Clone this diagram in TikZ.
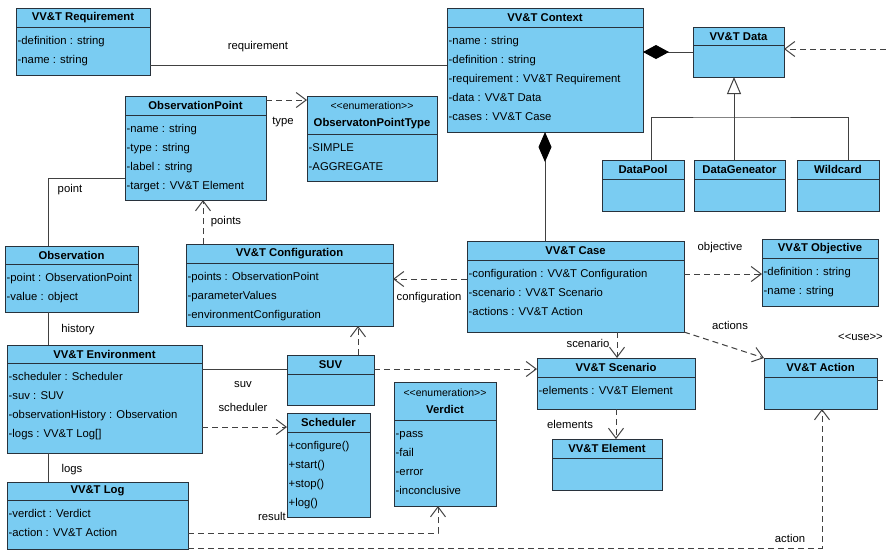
\documentclass[tikz,border=0pt]{standalone}
\usepackage{fontspec}
\setmainfont{Liberation Sans}[Ligatures=TeXOff]
\usetikzlibrary{arrows.meta, calc}

\definecolor{boxblue}{RGB}{122,204,242}
\definecolor{edgegray}{RGB}{40,50,60}
\definecolor{wiregray}{RGB}{65,65,65}

\tikzset{
  umlclass/.style={draw=edgegray, fill=boxblue, line width=1pt, anchor=north west, inner sep=0pt, outer sep=0pt},
  umlhead/.style={font=\fontsize{11.3}{17}\selectfont\bfseries, anchor=north, inner sep=0pt, minimum height=19pt, align=center},
  umlattr/.style={anchor=north west, align=left, inner xsep=1.5pt, inner ysep=4pt},
  sep/.style={draw=edgegray, line width=1pt},
  assoc/.style={draw=wiregray, line width=1pt},
  depend/.style={draw=wiregray, line width=1pt, dash pattern=on 6pt off 4pt, -{Straight Barb[length=10pt,width=15pt]}},
  rolename/.style={inner sep=1pt}
}

\begin{document}
\begin{tikzpicture}[x=1pt, y=-1pt, font=\fontsize{11.3}{19}\selectfont]
    \useasboundingbox (0,0) rectangle (886,550);
    \clip (0,0) rectangle (886,550);

    % top row
    \node[umlclass, minimum width=134pt, minimum height=67pt] (req) at (16,8) {};
    \node[umlhead] (reqH) at (req.north) {VV\&T Requirement};
    \draw[sep] (reqH.south -| req.west) -- (reqH.south -| req.east);
    \node[umlattr] (reqA) at (reqH.south -| req.west) {\strut-definition : string\\-name : string};

    \node[umlclass, minimum width=196pt, minimum height=124pt] (ctx) at (447,8) {};
    \node[umlhead] (ctxH) at (ctx.north) {VV\&T Context};
    \draw[sep] (ctxH.south -| ctx.west) -- (ctxH.south -| ctx.east);
    \node[umlattr] (ctxA) at (ctxH.south -| ctx.west) {\strut-name : string\\-definition : string\\-requirement : VV\&T Requirement\\-data : VV\&T Data\\-cases : VV\&T Case};

    \node[umlclass, minimum width=91pt, minimum height=50pt] (data) at (693,27) {};
    \node[umlhead, minimum height=18pt] (dataH) at (data.north) {VV\&T Data};
    \draw[sep] (dataH.south -| data.west) -- (dataH.south -| data.east);

    \node[umlclass, minimum width=82pt, minimum height=51pt] (pool) at (602,160) {};
    \node[umlhead] (poolH) at (pool.north) {DataPool};
    \draw[sep] (poolH.south -| pool.west) -- (poolH.south -| pool.east);

    \node[umlclass, minimum width=91pt, minimum height=51pt] (gener) at (694,160) {};
    \node[umlhead] (generH) at (gener.north) {DataGeneator};
    \draw[sep] (generH.south -| gener.west) -- (generH.south -| gener.east);

    \node[umlclass, minimum width=82pt, minimum height=51pt] (wild) at (797,160) {};
    \node[umlhead] (wildH) at (wild.north) {Wildcard};
    \draw[sep] (wildH.south -| wild.west) -- (wildH.south -| wild.east);

    \node[umlclass, minimum width=141pt, minimum height=104pt] (obsp) at (125,96) {};
    \node[umlhead] (obspH) at (obsp.north) {ObservationPoint};
    \draw[sep] (obspH.south -| obsp.west) -- (obspH.south -| obsp.east);
    \node[umlattr] (obspA) at (obspH.south -| obsp.west) {\strut-name : string\\-type : string\\-label : string\\-target : VV\&T Element};

    \node[umlclass, minimum width=130pt, minimum height=85pt] (optype) at (307,96) {};
    \node[umlhead, minimum height=38pt] (optypeH) at (optype.north) {{\mdseries\fontsize{10.5}{17}\selectfont <<enumeration>>}\\ObservatonPointType};
    \draw[sep] (optypeH.south -| optype.west) -- (optypeH.south -| optype.east);
    \node[umlattr] (optypeA) at (optypeH.south -| optype.west) {\strut-SIMPLE\\-AGGREGATE};

    % middle row
    \node[umlclass, minimum width=133pt, minimum height=66pt] (obs) at (5,246) {};
    \node[umlhead, minimum height=18pt] (obsH) at (obs.north) {Observation};
    \draw[sep] (obsH.south -| obs.west) -- (obsH.south -| obs.east);
    \node[umlattr] (obsA) at (obsH.south -| obs.west) {\strut-point : ObservationPoint\\-value : object};

    \node[umlclass, minimum width=207pt, minimum height=82pt] (cfg) at (186,244) {};
    \node[umlhead] (cfgH) at (cfg.north) {VV\&T Configuration};
    \draw[sep] (cfgH.south -| cfg.west) -- (cfgH.south -| cfg.east);
    \node[umlattr] (cfgA) at (cfgH.south -| cfg.west) {\strut-points : ObservationPoint\\-parameterValues\\-environmentConfiguration};

    \node[umlclass, minimum width=217pt, minimum height=91pt] (case) at (467,241) {};
    \node[umlhead] (caseH) at (case.north) {VV\&T Case};
    \draw[sep] (caseH.south -| case.west) -- (caseH.south -| case.east);
    \node[umlattr] (caseA) at (caseH.south -| case.west) {\strut-configuration : VV\&T Configuration\\-scenario : VV\&T Scenario\\-actions : VV\&T Action};

    \node[umlclass, minimum width=116pt, minimum height=67pt] (obj) at (762,239) {};
    \node[umlhead] (objH) at (obj.north) {VV\&T Objective};
    \draw[sep] (objH.south -| obj.west) -- (objH.south -| obj.east);
    \node[umlattr] (objA) at (objH.south -| obj.west) {\strut-definition : string\\-name : string};

    % lower part
    \node[umlclass, minimum width=195pt, minimum height=108pt] (env) at (7,345) {};
    \node[umlhead, minimum height=18pt] (envH) at (env.north) {VV\&T Environment};
    \draw[sep] (envH.south -| env.west) -- (envH.south -| env.east);
    \node[umlattr] (envA) at (envH.south -| env.west) {\strut-scheduler : Scheduler\\-suv : SUV\\-observationHistory : Observation\\-logs : VV\&T Log[]};

    \node[umlclass, minimum width=87pt, minimum height=50pt] (suv) at (287,355) {};
    \node[umlhead] (suvH) at (suv.north) {SUV};
    \draw[sep] (suvH.south -| suv.west) -- (suvH.south -| suv.east);

    \node[umlclass, minimum width=83pt, minimum height=104pt] (sched) at (287,413) {};
    \node[umlhead] (schedH) at (sched.north) {Scheduler};
    \draw[sep] (schedH.south -| sched.west) -- (schedH.south -| sched.east);
    \node[umlattr] (schedA) at (schedH.south -| sched.west) {\strut+configure()\\+start()\\+stop()\\+log()};

    \node[umlclass, minimum width=102pt, minimum height=124pt] (verd) at (394,382) {};
    \node[umlhead, minimum height=38pt] (verdH) at (verd.north) {{\mdseries\fontsize{10.5}{17}\selectfont <<enumeration>>}\\Verdict};
    \draw[sep] (verdH.south -| verd.west) -- (verdH.south -| verd.east);
    \node[umlattr] (verdA) at (verdH.south -| verd.west) {\strut-pass\\-fail\\-error\\-inconclusive};

    \node[umlclass, minimum width=181pt, minimum height=67pt] (log) at (7,482) {};
    \node[umlhead, minimum height=18pt] (logH) at (log.north) {VV\&T Log};
    \draw[sep] (logH.south -| log.west) -- (logH.south -| log.east);
    \node[umlattr] (logA) at (logH.south -| log.west) {\strut-verdict : Verdict\\-action : VV\&T Action};

    \node[umlclass, minimum width=158pt, minimum height=51pt] (scen) at (537,358) {};
    \node[umlhead] (scenH) at (scen.north) {VV\&T Scenario};
    \draw[sep] (scenH.south -| scen.west) -- (scenH.south -| scen.east);
    \node[umlattr] (scenA) at (scenH.south -| scen.west) {\strut-elements : VV\&T Element};

    \node[umlclass, minimum width=110pt, minimum height=51pt] (elem) at (552,439) {};
    \node[umlhead] (elemH) at (elem.north) {VV\&T Element};
    \draw[sep] (elemH.south -| elem.west) -- (elemH.south -| elem.east);

    \node[umlclass, minimum width=113pt, minimum height=51pt] (act) at (764,358) {};
    \node[umlhead] (actH) at (act.north) {VV\&T Action};
    \draw[sep] (actH.south -| act.west) -- (actH.south -| act.east);

    % associations and compositions
    \draw[assoc] (req.east |- 0,65) -- (ctx.west |- 0,65);
    \draw[assoc, {Diamond[length=26pt,width=14pt,color=black]}-] (ctx.east |- 0,52) -- (data.west |- 0,52);
    \draw[assoc, {Diamond[length=30pt,width=13pt,color=black]}-] (ctx.south) -- (ctx.south |- case.north);
    \draw[assoc] (obs.north -| 48,0) |- (obsp.west |- 0,178);
    \draw[assoc] (obs.south -| 48,0) -- (env.north -| 48,0);
    \draw[assoc] (env.south -| 48,0) -- (log.north -| 48,0);
    \draw[assoc] (env.east |- 0,369) -- (suv.west |- 0,369);

    % generalization
    \coordinate (gen) at (734,117);
    \draw[assoc, -{Triangle[open,length=17pt,width=14pt]}] (gen) -- (gen |- data.south);
    \draw[assoc] ([xshift=8pt]pool.north) |- (gen) -| ([xshift=10pt]wild.north);
    \draw[assoc] ([xshift=-5pt]gener.north) -- ([xshift=-5pt]gener.north |- gen);

    % dependencies
    \draw[depend] (obsp.east |- 0,100) -- (optype.west |- 0,100);
    \draw[depend] (cfg.north -| 203,0) -- (obsp.south -| 203,0);
    \draw[depend] (case.west |- 0,279) -- (cfg.east |- 0,279);
    \draw[depend] (case.east |- 0,274) -- (obj.west |- 0,274);
    \draw[depend] (case.south east) -- (act.north west);
    \draw[depend] (case.south -| 617,0) -- (scen.north -| 617,0);
    \draw[depend] (scen.south) -- (scen.south |- elem.north);
    \draw[depend] (suv.north -| 358,0) -- (cfg.south -| 358,0);
    \draw[depend] (suv.east |- 0,369) -- (scen.west |- 0,369);
    \draw[depend] (env.east |- 0,427) -- (sched.west |- 0,427);
    \draw[depend] (log.east |- 0,533) -| (verd.south -| 438,0);
    \draw[depend] (log.east |- 0,548) -| (act.south -| 822,0);
    \coordinate (useIn) at (886,49);
    \draw[depend] (useIn) -- (data.east |- useIn);
    \coordinate (useOut) at (886,380);
    \draw[assoc, dash pattern=on 6pt off 4pt] (act.east |- useOut) -- (useOut);

    % role names
    \node[rolename] (lReq) at (258,47) {requirement};
    \node[rolename] (lType) at (283,122) {type};
    \node[rolename] (lPoints) at (226,222) {points};
    \node[rolename] (lConf) at (429,298) {configuration};
    \node[rolename] (lObj) at (720,248) {objective};
    \node[rolename] (lActs) at (730,325) {actions};
    \node[rolename] (lScen) at (588,343) {scenario};
    \node[rolename] (lElem) at (570,424) {elements};
    \node[rolename] (lPoint) at (70,190) {point};
    \node[rolename] (lHist) at (78,330) {history};
    \node[rolename] (lSuv) at (243,385) {suv};
    \node[rolename] (lSched) at (243,407) {scheduler};
    \node[rolename] (lLogs) at (72,470) {logs};
    \node[rolename] (lRes) at (272,516) {result};
    \node[rolename] (lAct) at (790,538) {action};
    \node[rolename, anchor=west] (lUse) at (837,337) {<<use>>};
\end{tikzpicture}
\end{document}
